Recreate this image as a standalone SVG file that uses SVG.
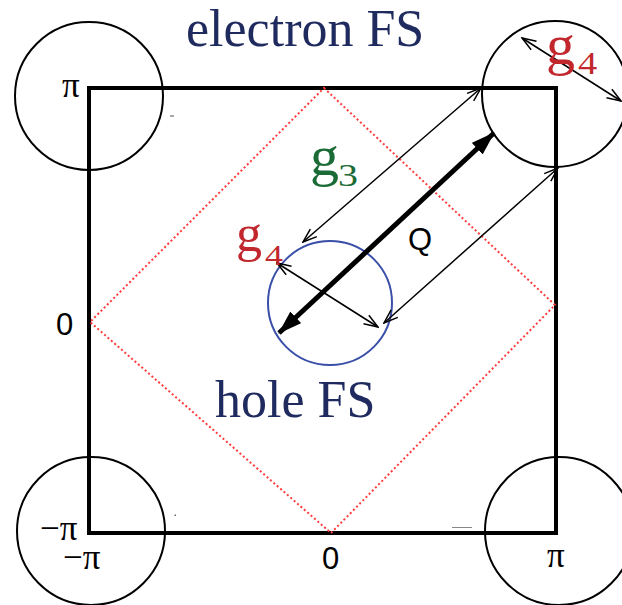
<svg xmlns="http://www.w3.org/2000/svg" width="622" height="605" viewBox="0 0 622 605">
<style>
.fs{font-family:"Liberation Serif","Times New Roman",serif;fill:#1f2a5e;font-size:52px}
.ax{font-family:"Liberation Sans",Arial,sans-serif;fill:#000;font-size:31px}
.pi{font-family:"Liberation Serif","Times New Roman",serif;fill:#000;font-size:35px}
.g{font-family:"Liberation Serif","Times New Roman",serif}
.red{fill:#c1272d}
.grn{fill:#1b6b36}
.bz{fill:none;stroke:#000;stroke-width:2}
.thin{stroke:#000;stroke-width:1.5;fill:none;marker-start:url(#open);marker-end:url(#open)}
</style>
<defs>
<marker id="open" viewBox="0 0 16 12" refX="15" refY="6" markerWidth="16" markerHeight="12" orient="auto-start-reverse" markerUnits="userSpaceOnUse">
<path d="M1,1 L15,6 L1,11" fill="none" stroke="#000" stroke-width="1.5"/>
</marker>
<marker id="bold" viewBox="0 0 24 16" refX="23" refY="8" markerWidth="24" markerHeight="16" orient="auto-start-reverse" markerUnits="userSpaceOnUse">
<path d="M0,0 L24,8 L0,16 Z" fill="#000"/>
</marker>
</defs>

<g id="bz-square">
<rect x="89" y="88" width="467" height="445" fill="none" stroke="#000" stroke-width="4"/>
</g>
<g id="diamond">
<polygon points="324,88 555,305 331,533 90,322" fill="none" stroke="#ff3b3b" stroke-width="2" stroke-dasharray="2,2.5"/>
</g>

<g id="electron-pocket-tl"><circle cx="89" cy="96" r="74" class="bz"/></g>
<g id="electron-pocket-tr"><circle cx="555" cy="94" r="73" class="bz"/></g>
<g id="electron-pocket-bl"><circle cx="91" cy="531" r="74" class="bz"/></g>
<g id="electron-pocket-br"><circle cx="559" cy="531" r="74" class="bz"/></g>
<g id="hole-pocket"><circle cx="330" cy="303" r="62" fill="none" stroke="#3a4fa8" stroke-width="2"/></g>

<g id="connectors">
<line x1="279" y1="333" x2="494" y2="133" stroke="#000" stroke-width="5" marker-start="url(#bold)" marker-end="url(#bold)"/>
<line x1="303" y1="242" x2="481" y2="88" class="thin"/>
<line x1="384" y1="323" x2="558" y2="168" class="thin"/>
<line x1="277" y1="263" x2="378" y2="327" class="thin"/>
<line x1="522" y1="38" x2="621" y2="101" class="thin"/>
</g>

<g id="labels">
<text x="186" y="46" class="fs">electron FS</text>
<text x="215" y="417" class="fs">hole FS</text>
<text x="408" y="250" class="ax" font-size="24">Q</text>
<text class="g grn" x="310" y="175" font-size="58">g</text>
<text class="g grn" font-size="32" transform="translate(338,186) scale(1.25,1)">3</text>
<text class="g red" x="236" y="251" font-size="52">g</text>
<text class="g red" font-size="30" transform="translate(265,265) scale(1.2,1)">4</text>
<text class="g red" x="546" y="64" font-size="58">g</text>
<text class="g red" font-size="32" transform="translate(578,74) scale(1.2,1)">4</text>
</g>

<g id="axis-labels">
<text x="62" y="97" class="pi">π</text>
<text x="56" y="335" class="ax" font-size="32">0</text>
<text x="40" y="540" class="pi">−π</text>
<text x="63" y="569" class="pi">−π</text>
<text x="322" y="569" class="ax">0</text>
<text x="547" y="567" class="pi">π</text>
</g>

<g id="marks">
<line x1="170" y1="116" x2="174" y2="116" stroke="#555" stroke-width="1"/>
<rect x="174.5" y="514.5" width="1.5" height="1.5" fill="#666"/>
<line x1="452" y1="527.5" x2="472" y2="527.5" stroke="#888" stroke-width="1"/>
</g>
</svg>
